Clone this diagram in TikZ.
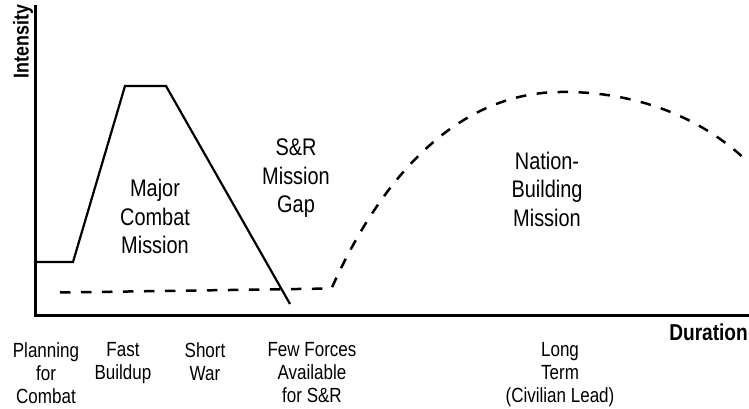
\documentclass[tikz,border=0pt]{standalone}
\usepackage{fontspec}
\setmainfont[FakeStretch=0.83]{Liberation Sans}
\begin{document}
\begin{tikzpicture}[x=1pt,y=-1pt,
  axisline/.style={line width=3pt,line join=miter},
  combatline/.style={line width=2.2pt,line join=miter},
  buildline/.style={line width=2.5pt,dash pattern=on 10.5pt off 10.5pt},
  mission/.style={align=center,inner sep=0pt,font=\fontsize{24}{28.5}\selectfont},
  phase/.style={align=center,inner sep=0pt,font=\fontsize{20.5}{23}\selectfont},
  axislabel/.style={inner sep=0pt,font=\fontsize{21.5}{24}\selectfont\bfseries}]
\useasboundingbox (0,0) rectangle (749,409);
\fill[white] (0,0) rectangle (749,409);
% axes
\coordinate (ytop) at (35,5);
\coordinate (origin) at (35,315);
\coordinate (xend) at (749,315);
\draw[axisline] (ytop) -- (origin) -- (xend);
% major combat mission curve
\coordinate (c0) at (35,262);
\coordinate (c1) at (73,262);
\coordinate (c2) at (125,86);
\coordinate (c3) at (166,86);
\coordinate (c4) at (290,304);
\draw[combatline] (c0) -- (c1) -- (c2) -- (c3) -- (c4);
% nation-building curve
\coordinate (n0) at (60,292.5);
\coordinate (n1) at (331.5,288.5);
\coordinate (npeak) at (560,92);
\coordinate (nend) at (749,163);
\draw[buildline] (n0) -- (n1) .. controls (380,180) and (455,93) .. (npeak)
  .. controls (640,91) and (705,120) .. (nend);
% labels
\node[axislabel,rotate=90] (intensity) at (23,41.5) {Intensity};
\node[axislabel,anchor=east,font=\fontsize{23}{26}\selectfont\bfseries] (duration) at (748,332) {Duration};
\node[mission] (major) at (155,216.5) {Major\\Combat\\Mission};
\node[mission] (gap) at (296,178.5) {S\&R\\Mission\\Gap};
\node[mission] (nation) at (547,189) {Nation-\\Building\\Mission};
\node[phase] (planning) at (46,373) {Planning\\for\\Combat};
\node[phase] (fast) at (123,363.5) {Fast\\Buildup};
\node[phase] (short) at (205,361.5) {Short\\War};
\node[phase] (few) at (312,373) {Few Forces\\Available\\for S\&R};
\node[phase] (long) at (560,375) {Long\\Term\\(Civilian Lead)};
\end{tikzpicture}
\end{document}
